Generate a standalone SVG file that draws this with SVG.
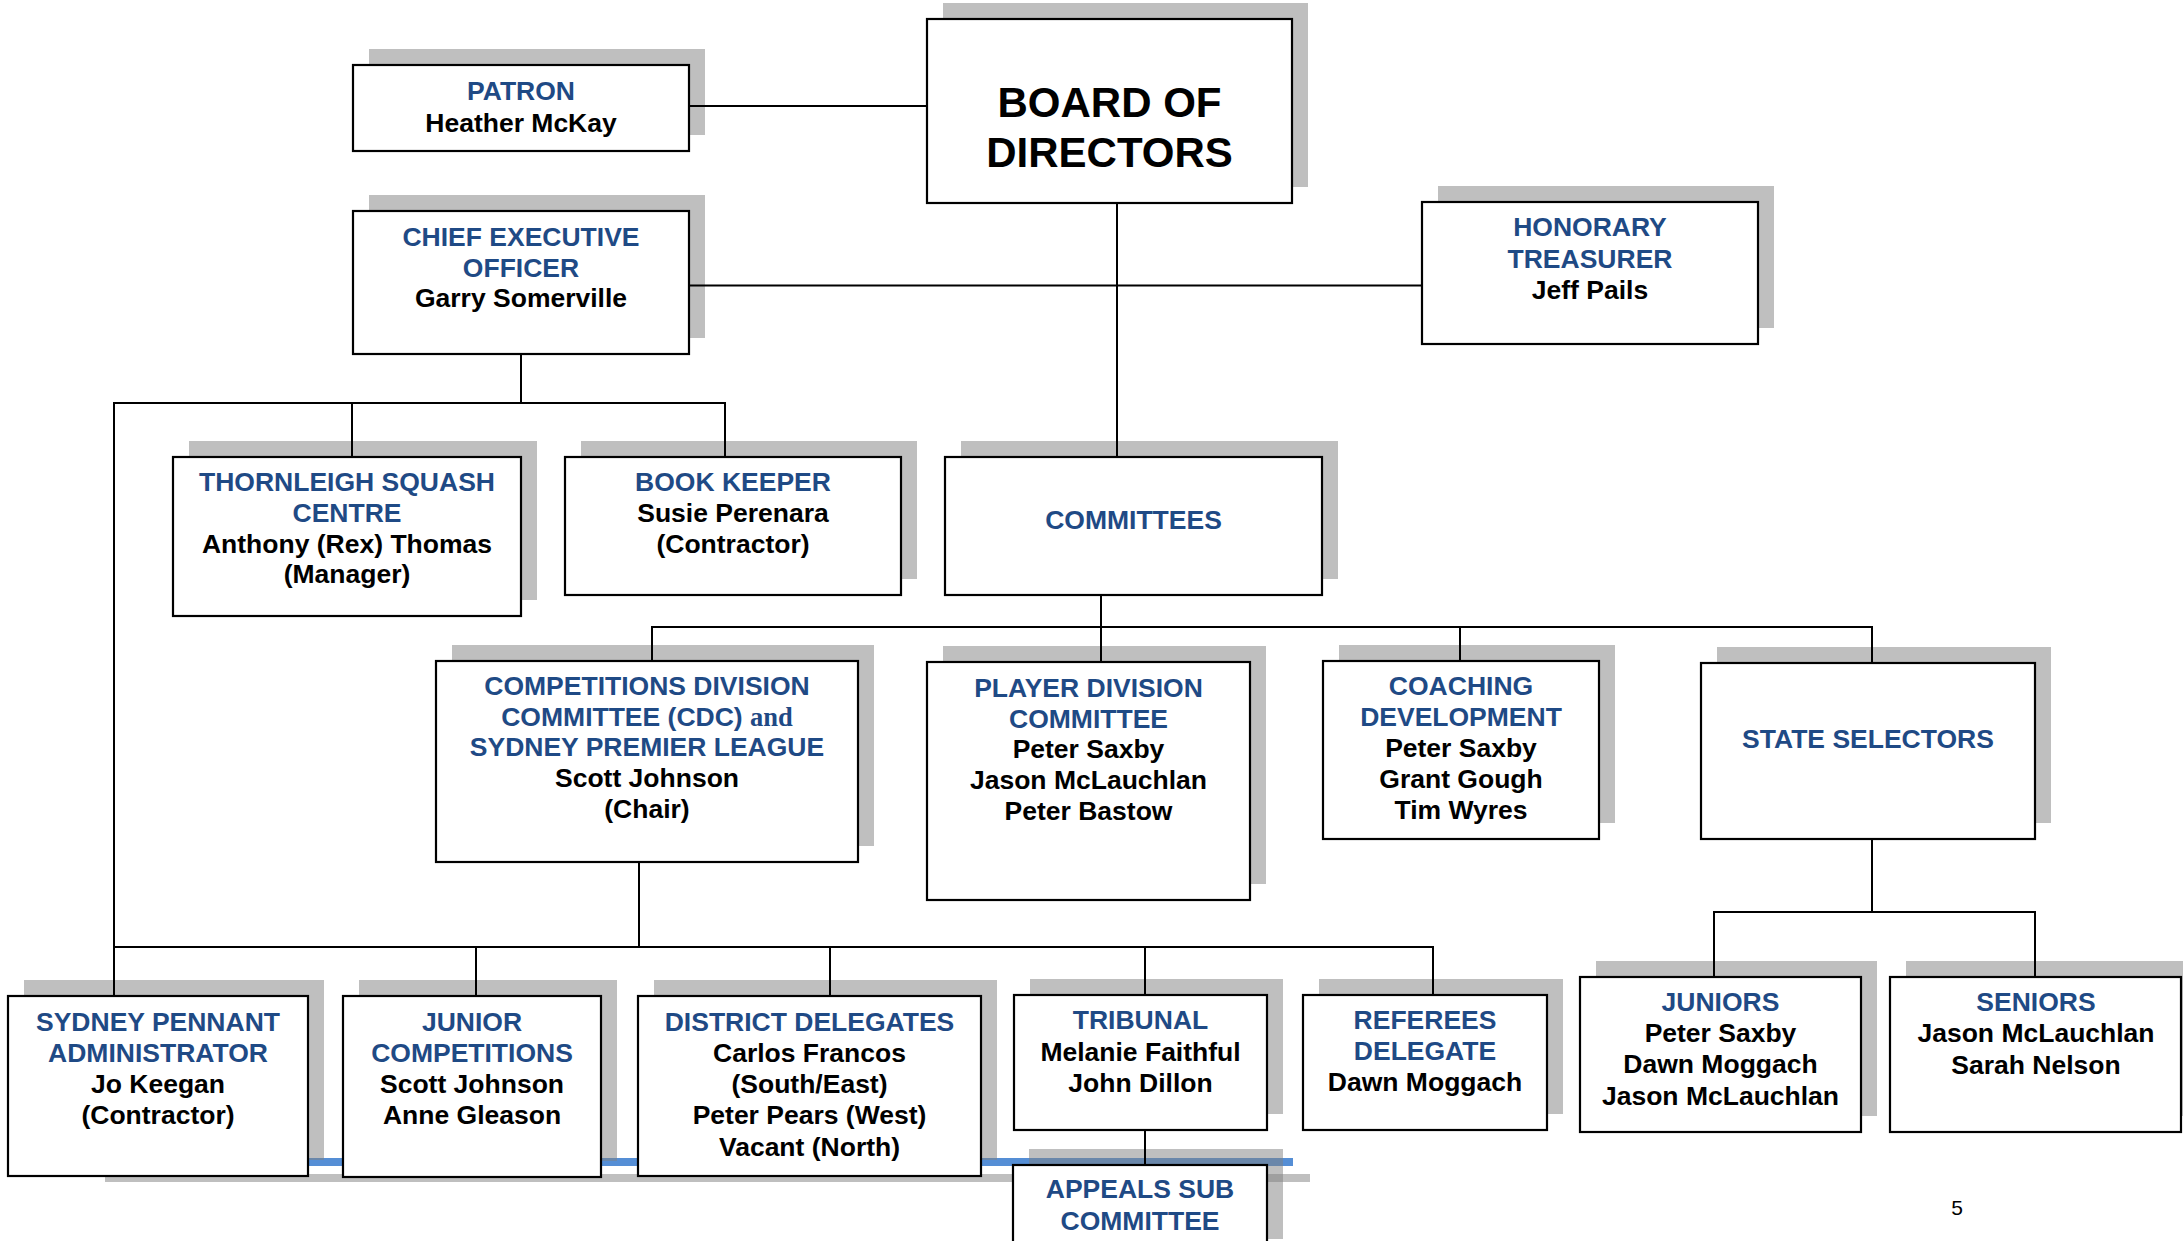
<svg xmlns="http://www.w3.org/2000/svg" width="2183" height="1241" viewBox="0 0 2183 1241">
<style>
.sh{fill:#808080;fill-opacity:0.5}
.bx{fill:#fff;stroke:#000;stroke-width:2.2}
.t{font-family:"Liberation Sans",Arial,sans-serif;font-weight:bold;font-size:26.5px;text-anchor:middle;transform:translateY(-1px)}
.h{fill:#1F4A85}
.n{fill:#000}
.s{font-family:"Liberation Serif","Times New Roman",serif;font-weight:bold}
.c{fill:none;stroke:#000;stroke-width:2}
</style>
<rect width="2183" height="1241" fill="#fff"/>
<g id="page-rule">
<rect x="88" y="1158" width="1205" height="8" fill="#558ED5"/>
<rect class="sh" x="105" y="1174" width="1205" height="8"/>
</g>
<g id="board">
<rect class="sh" x="943" y="3" width="365" height="184"/>
<rect class="bx" x="927" y="19" width="365" height="184"/>
<text class="t n" x="1109.5" y="118" style="font-size:42px">BOARD OF</text>
<text class="t n" x="1109.5" y="168" style="font-size:42px">DIRECTORS</text>
</g>
<g id="patron">
<rect class="sh" x="369" y="49" width="336" height="86"/>
<rect class="bx" x="353" y="65" width="336" height="86"/>
<text class="t h" x="521" y="101">PATRON</text>
<text class="t n" x="521" y="133">Heather McKay</text>
</g>
<g id="ceo">
<rect class="sh" x="369" y="195" width="336" height="143"/>
<rect class="bx" x="353" y="211" width="336" height="143"/>
<text class="t h" x="521" y="247">CHIEF EXECUTIVE</text>
<text class="t h" x="521" y="278">OFFICER</text>
<text class="t n" x="521" y="308">Garry Somerville</text>
</g>
<g id="treasurer">
<rect class="sh" x="1438" y="186" width="336" height="142"/>
<rect class="bx" x="1422" y="202" width="336" height="142"/>
<text class="t h" x="1590" y="237">HONORARY</text>
<text class="t h" x="1590" y="269">TREASURER</text>
<text class="t n" x="1590" y="300">Jeff Pails</text>
</g>
<g id="thornleigh">
<rect class="sh" x="189" y="441" width="348" height="159"/>
<rect class="bx" x="173" y="457" width="348" height="159"/>
<text class="t h" x="347" y="492">THORNLEIGH SQUASH</text>
<text class="t h" x="347" y="523">CENTRE</text>
<text class="t n" x="347" y="554">Anthony (Rex) Thomas</text>
<text class="t n" x="347" y="584">(Manager)</text>
</g>
<g id="bookkeeper">
<rect class="sh" x="581" y="441" width="336" height="138"/>
<rect class="bx" x="565" y="457" width="336" height="138"/>
<text class="t h" x="733" y="492">BOOK KEEPER</text>
<text class="t n" x="733" y="523">Susie Perenara</text>
<text class="t n" x="733" y="554">(Contractor)</text>
</g>
<g id="committees">
<rect class="sh" x="961" y="441" width="377" height="138"/>
<rect class="bx" x="945" y="457" width="377" height="138"/>
<text class="t h" x="1133.5" y="530">COMMITTEES</text>
</g>
<g id="cdc">
<rect class="sh" x="452" y="645" width="422" height="201"/>
<rect class="bx" x="436" y="661" width="422" height="201"/>
<text class="t h" x="647" y="696">COMPETITIONS DIVISION</text>
<text class="t h" x="647" y="727">COMMITTEE (CDC) <tspan class="s">and</tspan></text>
<text class="t h" x="647" y="757">SYDNEY PREMIER LEAGUE</text>
<text class="t n" x="647" y="788">Scott Johnson</text>
<text class="t n" x="647" y="819">(Chair)</text>
</g>
<g id="player">
<rect class="sh" x="943" y="646" width="323" height="238"/>
<rect class="bx" x="927" y="662" width="323" height="238"/>
<text class="t h" x="1088.5" y="698">PLAYER DIVISION</text>
<text class="t h" x="1088.5" y="729">COMMITTEE</text>
<text class="t n" x="1088.5" y="759">Peter Saxby</text>
<text class="t n" x="1088.5" y="790">Jason McLauchlan</text>
<text class="t n" x="1088.5" y="821">Peter Bastow</text>
</g>
<g id="coaching">
<rect class="sh" x="1339" y="645" width="276" height="178"/>
<rect class="bx" x="1323" y="661" width="276" height="178"/>
<text class="t h" x="1461" y="696">COACHING</text>
<text class="t h" x="1461" y="727">DEVELOPMENT</text>
<text class="t n" x="1461" y="758">Peter Saxby</text>
<text class="t n" x="1461" y="789">Grant Gough</text>
<text class="t n" x="1461" y="820">Tim Wyres</text>
</g>
<g id="state">
<rect class="sh" x="1717" y="647" width="334" height="176"/>
<rect class="bx" x="1701" y="663" width="334" height="176"/>
<text class="t h" x="1868" y="749">STATE SELECTORS</text>
</g>
<g id="pennant">
<rect class="sh" x="24" y="980" width="300" height="180"/>
<rect class="bx" x="8" y="996" width="300" height="180"/>
<text class="t h" x="158" y="1032">SYDNEY PENNANT</text>
<text class="t h" x="158" y="1063">ADMINISTRATOR</text>
<text class="t n" x="158" y="1094">Jo Keegan</text>
<text class="t n" x="158" y="1125">(Contractor)</text>
</g>
<g id="junior">
<rect class="sh" x="359" y="980" width="258" height="181"/>
<rect class="bx" x="343" y="996" width="258" height="181"/>
<text class="t h" x="472" y="1032">JUNIOR</text>
<text class="t h" x="472" y="1063">COMPETITIONS</text>
<text class="t n" x="472" y="1094">Scott Johnson</text>
<text class="t n" x="472" y="1125">Anne Gleason</text>
</g>
<g id="district">
<rect class="sh" x="654" y="980" width="343" height="180"/>
<rect class="bx" x="638" y="996" width="343" height="180"/>
<text class="t h" x="809.5" y="1032">DISTRICT DELEGATES</text>
<text class="t n" x="809.5" y="1063">Carlos Francos</text>
<text class="t n" x="809.5" y="1094">(South/East)</text>
<text class="t n" x="809.5" y="1125">Peter Pears (West)</text>
<text class="t n" x="809.5" y="1157">Vacant (North)</text>
</g>
<g id="tribunal">
<rect class="sh" x="1030" y="979" width="253" height="135"/>
<rect class="bx" x="1014" y="995" width="253" height="135"/>
<text class="t h" x="1140.5" y="1030">TRIBUNAL</text>
<text class="t n" x="1140.5" y="1062">Melanie Faithful</text>
<text class="t n" x="1140.5" y="1093">John Dillon</text>
</g>
<g id="appeals">
<rect class="sh" x="1029" y="1149" width="254" height="90"/>
<rect class="bx" x="1013" y="1165" width="254" height="90"/>
<text class="t h" x="1140" y="1199">APPEALS SUB</text>
<text class="t h" x="1140" y="1231">COMMITTEE</text>
</g>
<g id="referees">
<rect class="sh" x="1319" y="979" width="244" height="135"/>
<rect class="bx" x="1303" y="995" width="244" height="135"/>
<text class="t h" x="1425" y="1030">REFEREES</text>
<text class="t h" x="1425" y="1061">DELEGATE</text>
<text class="t n" x="1425" y="1092">Dawn Moggach</text>
</g>
<g id="juniors">
<rect class="sh" x="1596" y="961" width="281" height="155"/>
<rect class="bx" x="1580" y="977" width="281" height="155"/>
<text class="t h" x="1720.5" y="1012">JUNIORS</text>
<text class="t n" x="1720.5" y="1043">Peter Saxby</text>
<text class="t n" x="1720.5" y="1074">Dawn Moggach</text>
<text class="t n" x="1720.5" y="1106">Jason McLauchlan</text>
</g>
<g id="seniors">
<rect class="sh" x="1906" y="961" width="291" height="155"/>
<rect class="bx" x="1890" y="977" width="291" height="155"/>
<text class="t h" x="2036" y="1012">SENIORS</text>
<text class="t n" x="2036" y="1043">Jason McLauchlan</text>
<text class="t n" x="2036" y="1075">Sarah Nelson</text>
</g>
<g id="connectors">
<path class="c" d="M689,106 H927"/>
<path class="c" d="M1117,203 V457"/>
<path class="c" d="M689,285.5 H1422"/>
<path class="c" d="M521,354 V403"/>
<path class="c" d="M114,996 V403 H725 V457"/>
<path class="c" d="M352,403 V457"/>
<path class="c" d="M1101,595 V662"/>
<path class="c" d="M652,661 V627 H1872 V663"/>
<path class="c" d="M1460,627 V661"/>
<path class="c" d="M639,862 V947"/>
<path class="c" d="M114,947 H1433 V995"/>
<path class="c" d="M476,947 V996"/>
<path class="c" d="M830,947 V996"/>
<path class="c" d="M1145,947 V995"/>
<path class="c" d="M1145,1130 V1165"/>
<path class="c" d="M1872,839 V912"/>
<path class="c" d="M1714,977 V912 H2035 V977"/>
</g>
<text x="1957" y="1215" style="font-family:'Liberation Sans',Arial,sans-serif;font-size:21px;text-anchor:middle" fill="#000">5</text>
</svg>
